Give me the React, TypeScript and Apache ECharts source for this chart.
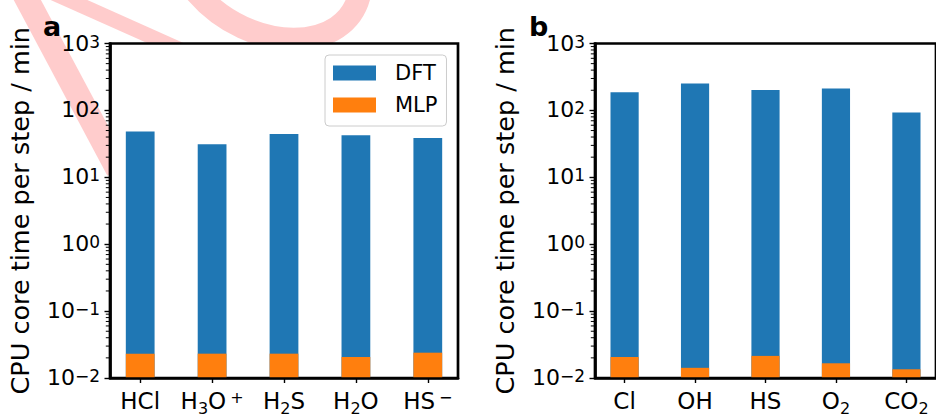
import React, { useEffect, useRef } from 'react';
import * as echarts from 'echarts';

// ---- data ----
const categoriesA = ['HCl', 'H_3O^+', 'H_2S', 'H_2O', 'HS^-'];
const categoriesB = ['Cl', 'OH', 'HS', 'O_2', 'CO_2'];
const dftA = [48.2, 31.2, 44.4, 42.4, 38.7];
const mlpA = [0.0231, 0.0231, 0.0231, 0.0206, 0.0239];
const dftB = [186, 253, 202, 213, 93];
const mlpB = [0.0206, 0.0142, 0.0214, 0.0166, 0.0135];
const seriesNames = ['DFT', 'MLP'];
const panelLabels = ['a', 'b'];
const yTitle = 'CPU core time per step / min';
const yMin = 0.01;
const yMax = 1000;
const xMin = -0.42;
const xMax = 4.42;
const categoryTicks = [0, 1, 2, 3, 4];

const FONT = 'DejaVu Sans';
const BLUE = '#1f77b4';
const ORANGE = '#ff7f0e';
const BAR_W = 0.4;

const minorTicks: number[] = [];
for (let e = -2; e <= 2; e++) {
  for (let k = 2; k <= 9; k++) minorTicks.push(+(k * Math.pow(10, e)).toPrecision(3));
}

const supMap: Record<string, string> = { '-': '\u2212' };

function toRich(label: string): string {
  // matplotlib-style: _x subscript, ^x superscript
  let out = '';
  let buf = '';
  for (let i = 0; i < label.length; i++) {
    const c = label[i];
    if ((c === '_' || c === '^') && i + 1 < label.length) {
      if (buf) { out += '{b|' + buf + '}'; buf = ''; }
      const n = label[i + 1];
      out += c === '_' ? '{sub|' + n + '}' : '{sup|' + (supMap[n] || n) + '}';
      i++;
    } else buf += c;
  }
  if (buf) out += '{b|' + buf + '}';
  return out;
}

function yLabel(v: number): string {
  const e = Math.round(Math.log10(v));
  const s = e < 0 ? '\u2212' + Math.abs(e) : String(e);
  return '{b|10}{s|' + s + '}';
}

const xRich = {
  b: { fontFamily: FONT, fontSize: 23, lineHeight: 23, verticalAlign: 'top', color: '#000' },
  sub: { fontFamily: FONT, fontSize: 16, lineHeight: 16, verticalAlign: 'top', padding: [11, 0, 0, 0], color: '#000' },
  sup: { fontFamily: FONT, fontSize: 16, lineHeight: 16, verticalAlign: 'top', padding: [0, 0, 0, 4], color: '#000' },
};

const yRich = {
  b: { fontFamily: FONT, fontSize: 22, lineHeight: 21, verticalAlign: 'bottom', color: '#000' },
  s: { fontFamily: FONT, fontSize: 17, lineHeight: 17, verticalAlign: 'top', padding: [0, 0, 9, 0], color: '#000' },
};

function barSeries(name: string, idx: number, vals: number[], color: string, z: number) {
  return {
    type: 'custom',
    name,
    xAxisIndex: idx,
    yAxisIndex: idx,
    data: vals.map((v, i) => [i, v]),
    encode: { x: 0, y: 1 },
    itemStyle: { color },
    clip: false,
    z,
    renderItem: (_params: any, api: any) => {
      const i = api.value(0);
      const v = api.value(1);
      const p0 = api.coord([i - BAR_W / 2, v]);
      const p1 = api.coord([i + BAR_W / 2, yMin]);
      return {
        type: 'rect',
        shape: { x: p0[0], y: p0[1], width: p1[0] - p0[0], height: p1[1] - p0[1] },
        style: { fill: color },
      };
    },
  };
}

// minor log ticks on the left axis, placed through the axis scale
function minorTickSeries(idx: number) {
  return {
    type: 'custom',
    xAxisIndex: idx,
    yAxisIndex: idx,
    data: minorTicks.map((v) => [xMin, v]),
    encode: { x: 0, y: 1 },
    clip: false,
    silent: true,
    z: 12,
    renderItem: (_params: any, api: any) => {
      const p = api.coord([api.value(0), api.value(1)]);
      return {
        type: 'line',
        shape: { x1: p[0] - 4.2, y1: p[1], x2: p[0], y2: p[1] },
        style: { stroke: '#000', lineWidth: 1 },
      };
    },
  };
}

function xAxisFor(idx: number, cats: string[]) {
  return {
    gridIndex: idx,
    type: 'value',
    min: xMin,
    max: xMax,
    z: 10,
    axisLine: { show: true, onZero: false, lineStyle: { color: '#000', width: 2.7 } },
    axisTick: { show: true, customValues: categoryTicks, length: 5, lineStyle: { color: '#000', width: 1.4 } },
    axisLabel: {
      show: true,
      customValues: categoryTicks,
      margin: 11,
      formatter: (v: number) => toRich(cats[Math.round(v)]),
      rich: xRich,
      verticalAlign: 'top',
    },
    splitLine: { show: false },
  };
}

function yAxisFor(idx: number) {
  return {
    gridIndex: idx,
    type: 'log',
    logBase: 10,
    min: yMin,
    max: yMax,
    position: 'left',
    z: 10,
    name: yTitle,
    nameLocation: 'middle',
    nameRotate: 90,
    nameGap: 77,
    nameTextStyle: { fontFamily: FONT, fontSize: 25.5, color: '#000' },
    axisLine: { show: true, onZero: false, lineStyle: { color: '#000', width: 2.7 } },
    axisTick: { show: true, length: 5.5, lineStyle: { color: '#000', width: 1.4 } },
    axisLabel: { show: true, margin: 10, formatter: yLabel, rich: yRich },
    splitLine: { show: false },
    minorTick: { show: false },
  };
}

const gridCommon = {
  top: 43.5,
  height: 337,
  width: 348,
  show: true,
  backgroundColor: '#ffffff',
  borderColor: '#000',
  borderWidth: 2.7,
};

const watermark = [
  { type: 'polyline', z: -1, silent: true, shape: { points: [[22, -10], [118, 170]] }, style: { stroke: '#ffcccc', lineWidth: 24, fill: 'none' } },
  { type: 'polyline', z: -1, silent: true, shape: { points: [[46.6, -10], [181, 50]] }, style: { stroke: '#ffcccc', lineWidth: 15, fill: 'none' } },
  {
    type: 'bezierCurve', z: -1, silent: true,
    shape: { x1: 196, y1: -8, cpx1: 250, cpy1: 55, cpx2: 348, cpy2: 55, x2: 360, y2: -8 },
    style: { stroke: '#ffcccc', lineWidth: 23, fill: 'none' },
  },
];

export default function App() {
  const ref = useRef<HTMLDivElement>(null);
  useEffect(() => {
    if (!ref.current) return;
    const chart = echarts.init(ref.current, undefined, { renderer: 'svg' });
    const option: any = {
      animation: false,
      backgroundColor: '#ffffff',
      grid: [
        { ...gridCommon, left: 110 },
        { ...gridCommon, left: 595 },
      ],
      xAxis: [xAxisFor(0, categoriesA), xAxisFor(1, categoriesB)],
      yAxis: [yAxisFor(0), yAxisFor(1)],
      legend: {
        data: seriesNames,
        left: 325,
        top: 55,
        orient: 'vertical',
        icon: 'rect',
        itemWidth: 43,
        itemHeight: 15,
        itemGap: 10,
        padding: [7, 9, 10, 8],
        backgroundColor: 'rgba(255,255,255,0.8)',
        borderColor: '#cccccc',
        borderWidth: 1,
        borderRadius: 4,
        textStyle: { fontFamily: FONT, fontSize: 21, color: '#000', lineHeight: 22, padding: [0, 0, 0, 14] },
      },
      graphic: [
        ...watermark,
        { type: 'text', z: 100, x: 43, y: 26, style: { text: panelLabels[0], font: 'bold 27px "DejaVu Sans"', fill: '#000', verticalAlign: 'middle' } },
        { type: 'text', z: 100, x: 529, y: 26, style: { text: panelLabels[1], font: 'bold 27px "DejaVu Sans"', fill: '#000', verticalAlign: 'middle' } },
      ],
      series: [
        barSeries(seriesNames[0], 0, dftA, BLUE, 2),
        barSeries(seriesNames[1], 0, mlpA, ORANGE, 3),
        barSeries(seriesNames[0], 1, dftB, BLUE, 2),
        barSeries(seriesNames[1], 1, mlpB, ORANGE, 3),
        minorTickSeries(0),
        minorTickSeries(1),
      ],
    };
    chart.setOption(option);
    return () => chart.dispose();
  }, []);
  return <div ref={ref} style={{ position: 'absolute', left: 0, top: 0, width: 936, height: 416 }} />;
}
